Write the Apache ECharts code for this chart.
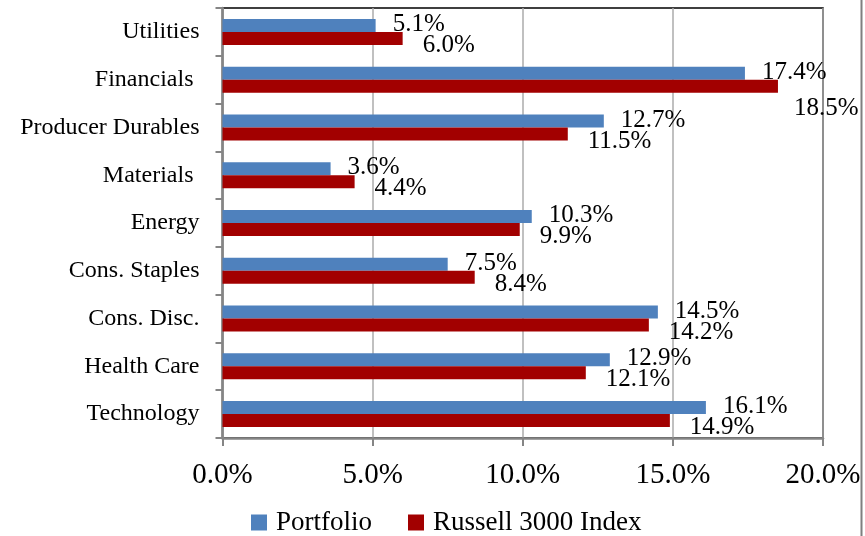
<!DOCTYPE html>
<html>
<head>
<meta charset="utf-8">
<script src="https://cdn.jsdelivr.net/npm/echarts@6/dist/echarts.min.js"></script>
<style>
  html, body { margin: 0; padding: 0; background: #fff; }
  #chart { width: 865px; height: 536px; }
</style>
</head>
<body>
<div id="chart"></div>
<script>
// Sector weights, listed top to bottom
const sectors = ['Utilities', 'Financials ', 'Producer Durables', 'Materials ', 'Energy',
                 'Cons. Staples', 'Cons. Disc.', 'Health Care', 'Technology'];
const portfolio = [5.1, 17.4, 12.7, 3.6, 10.3, 7.5, 14.5, 12.9, 16.1];
const russell3000 = [6.0, 18.5, 11.5, 4.4, 9.9, 8.4, 14.2, 12.1, 14.9];
const seriesNames = ['Portfolio', 'Russell 3000 Index'];
const axisTicks = [0, 5, 10, 15, 20];

const FONT = '"Liberation Serif", "Times New Roman", serif';
const AXIS_GRAY = '#858585';

// The 18.5% label sits lower so it clears the plot frame
const russellLabelNudge = { 'Financials ': [-4, 22] };

const fmt = v => Number(v).toFixed(1) + '%';

const chart = echarts.init(document.getElementById('chart'), null, { renderer: 'canvas' });

chart.setOption({
  animation: false,
  backgroundColor: '#ffffff',
  textStyle: { fontFamily: FONT },
  grid: {
    left: 222.5, right: 42, top: 8, bottom: 98,
    show: true, borderColor: '#000000', borderWidth: 1.5
  },
  legend: {
    left: 251, top: 509, padding: 0,
    itemWidth: 16, itemHeight: 16, itemGap: 36,
    icon: 'rect',
    data: seriesNames,
    textStyle: { fontFamily: FONT, fontSize: 27, color: '#000', padding: [0, 0, 0, 4] }
  },
  xAxis: {
    type: 'value',
    min: axisTicks[0], max: axisTicks[axisTicks.length - 1], interval: axisTicks[1] - axisTicks[0],
    axisLine: { show: true, lineStyle: { color: AXIS_GRAY, width: 2.5 } },
    axisTick: { show: true, length: 8, lineStyle: { color: AXIS_GRAY, width: 2 } },
    splitLine: { show: true, lineStyle: { color: '#ababab', width: 1.5 } },
    axisLabel: { formatter: fmt, fontFamily: FONT, fontSize: 29, color: '#000', margin: 23 }
  },
  yAxis: {
    type: 'category',
    inverse: true,
    data: sectors,
    axisLine: { show: true, lineStyle: { color: AXIS_GRAY, width: 2.5 } },
    axisTick: { show: true, length: 7, lineStyle: { color: AXIS_GRAY, width: 2 } },
    axisLabel: { fontFamily: FONT, fontSize: 24, color: '#000', margin: 23, padding: [0, 0, 6, 0] }
  },
  series: [
    {
      name: seriesNames[0],
      type: 'bar',
      data: portfolio,
      barWidth: 13,
      barGap: '0%',
      itemStyle: { color: '#4f81bd' },
      label: {
        show: true, position: 'right', distance: 17, offset: [0, -1],
        formatter: p => fmt(p.value),
        fontFamily: FONT, fontSize: 25, color: '#000'
      }
    },
    {
      name: seriesNames[1],
      type: 'bar',
      data: russell3000.map((v, i) => {
        const nudge = russellLabelNudge[sectors[i]];
        return nudge ? { value: v, label: { offset: nudge } } : v;
      }),
      barWidth: 13,
      barGap: '0%',
      itemStyle: { color: '#a20000' },
      label: {
        show: true, position: 'right', distance: 20, offset: [0, 7],
        formatter: p => fmt(p.value),
        fontFamily: FONT, fontSize: 25, color: '#000'
      }
    }
  ],
  graphic: [
    {
      type: 'line', silent: true, z: 100,
      shape: { x1: 861.5, y1: 0, x2: 861.5, y2: 536 },
      style: { stroke: '#7f7f7f', lineWidth: 2 }
    }
  ]
});
</script>
</body>
</html>
